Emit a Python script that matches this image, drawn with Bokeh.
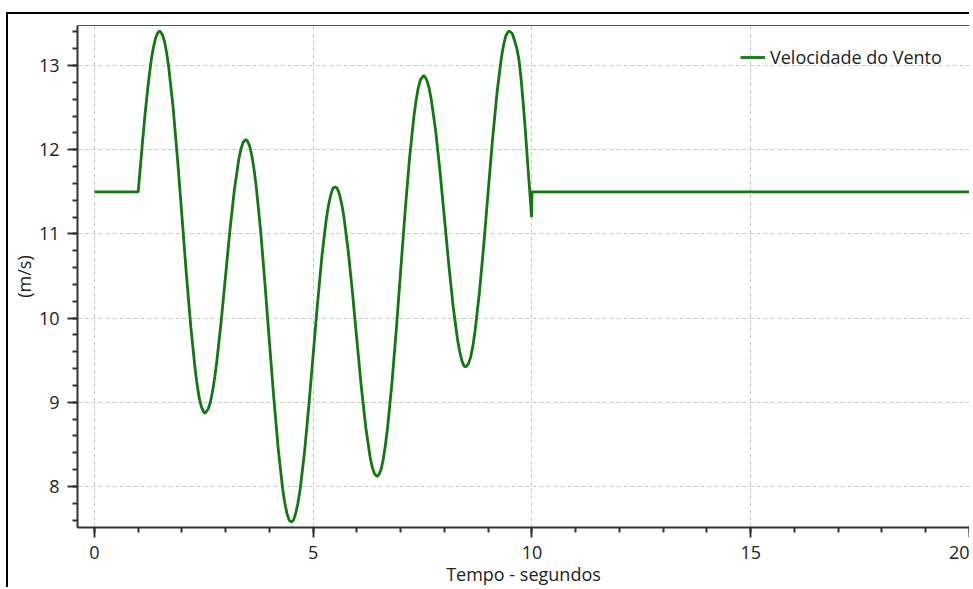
from bokeh.plotting import figure
from bokeh.models import SingleIntervalTicker, Legend, LegendItem
from bokeh.embed import file_html
from bokeh.resources import INLINE

# Time (s) and wind speed (m/s)
tempo = [0.0, 1.0, 1.1, 1.2, 1.3, 1.4, 1.49, 1.6, 1.7, 1.8, 1.9, 2.0, 2.1, 2.2, 2.3, 2.4, 2.5, 2.53,
         2.6, 2.7, 2.8, 2.9, 3.0, 3.1, 3.2, 3.3, 3.4, 3.46, 3.5, 3.6, 3.7, 3.8, 3.9, 4.0, 4.1, 4.2,
         4.3, 4.4, 4.5, 4.6, 4.7, 4.8, 4.9, 5.0, 5.1, 5.2, 5.3, 5.4, 5.5, 5.6, 5.7, 5.8, 5.9, 6.0,
         6.1, 6.2, 6.3, 6.4, 6.46, 6.5, 6.6, 6.7, 6.8, 6.9, 7.0, 7.1, 7.2, 7.3, 7.4, 7.52, 7.6, 7.7,
         7.8, 7.9, 8.0, 8.1, 8.2, 8.3, 8.4, 8.49, 8.6, 8.7, 8.8, 8.9, 9.0, 9.1, 9.2, 9.3, 9.4, 9.48,
         9.6, 9.7, 9.8, 9.9, 9.99, 10.0, 20.0]
velocidade = [11.5, 11.5, 12.10, 12.64, 13.07, 13.33, 13.41, 13.29, 12.97, 12.49, 11.88, 11.21,
              10.53, 9.91, 9.40, 9.04, 8.88, 8.87, 8.92, 9.13, 9.50, 9.98, 10.52, 11.06, 11.53,
              11.89, 12.09, 12.12, 12.10, 11.92, 11.55, 11.03, 10.39, 9.71, 9.05, 8.45, 7.98, 7.68,
              7.58, 7.68, 7.96, 8.40, 8.96, 9.57, 10.18, 10.74, 11.18, 11.46, 11.56, 11.47, 11.21,
              10.80, 10.29, 9.73, 9.18, 8.71, 8.35, 8.15, 8.12, 8.14, 8.32, 8.70, 9.23, 9.87, 10.57,
              11.26, 11.89, 12.39, 12.73, 12.88, 12.82, 12.59, 12.22, 11.73, 11.18, 10.63, 10.13,
              9.74, 9.49, 9.42, 9.54, 9.85, 10.31, 10.88, 11.51, 12.13, 12.67, 13.09, 13.35, 13.41,
              13.30, 13.08, 12.55, 11.85, 11.20, 11.50, 11.50]

# extra readings taken in between, around the peaks and troughs
tempo_extra = [1.05, 1.15, 1.25, 1.35, 1.45, 1.55, 1.65, 2.35, 2.45, 2.65, 2.75, 3.35, 3.55,
               3.65, 4.35, 4.45, 4.55, 4.65, 5.35, 5.45, 5.55, 5.65, 6.35, 6.55, 6.65, 7.35,
               7.45, 7.55, 7.65, 8.35, 8.45, 8.55, 8.65, 9.35, 9.45, 9.55, 9.65, 9.75, 9.85,
               9.95]
velocidade_extra = [11.80, 12.38, 12.87, 13.22, 13.39, 13.37, 13.15, 9.20, 8.94, 9.00, 9.30,
                    12.01, 12.04, 11.76, 7.81, 7.60, 7.60, 7.80, 11.34, 11.54, 11.54, 11.36,
                    8.23, 8.20, 8.49, 12.58, 12.83, 12.87, 12.73, 9.60, 9.43, 9.46, 9.67, 13.24,
                    13.40, 13.38, 13.21, 12.85, 12.22, 11.50]

serie_nome = "Velocidade do Vento"
x_titulo = "Tempo - segundos"
y_titulo = "(m/s)"

pontos = sorted(list(zip(tempo, velocidade)) + list(zip(tempo_extra, velocidade_extra)))
xs = [a for a, b in pontos]
ys = [b for a, b in pontos]

FONT = "Open Sans"
TXT = "#222222"

p = figure(width=963, height=575, x_range=(-0.387, 20.0), y_range=(7.513, 13.475),
           output_backend="svg", toolbar_location=None,
           min_border_left=67, min_border_top=11, min_border_right=2, min_border_bottom=62)
p.styles = {"border-left": "2px solid black", "border-top": "2px solid black",
            "margin-top": "12px", "margin-left": "6px"}

r = p.line(xs, ys, line_color="#137813", line_width=2.8)

p.outline_line_color = "#555555"
p.outline_line_width = 1

p.xaxis.ticker = SingleIntervalTicker(interval=5, num_minor_ticks=5)
p.yaxis.ticker = SingleIntervalTicker(interval=1, num_minor_ticks=5)

for ax in (p.xaxis[0], p.yaxis[0]):
    ax.axis_line_color = "#333333"
    ax.axis_line_width = 2
    ax.major_tick_line_color = "#333333"
    ax.major_tick_line_width = 2
    ax.minor_tick_line_color = "#333333"
    ax.minor_tick_line_width = 2
    ax.major_tick_out = 10
    ax.major_tick_in = 0
    ax.minor_tick_out = 5
    ax.minor_tick_in = 0
    ax.major_label_text_font = FONT
    ax.major_label_text_font_size = "18px"
    ax.major_label_text_color = TXT
    ax.axis_label_text_font = FONT
    ax.axis_label_text_font_size = "18px"
    ax.axis_label_text_font_style = "normal"
    ax.axis_label_text_color = TXT

p.xaxis.axis_label = x_titulo
p.yaxis.axis_label = y_titulo
p.xaxis.major_label_standoff = 8
p.xaxis.axis_label_standoff = 0
p.yaxis.major_label_standoff = 8
p.yaxis.axis_label_standoff = 0

for g in (p.xgrid[0], p.ygrid[0]):
    g.grid_line_color = "#c8c8c8"
    g.grid_line_dash = "4 3"
    g.grid_line_width = 1

legend = Legend(items=[LegendItem(label=serie_nome, renderers=[r])],
                location=(663, 458), border_line_color=None, background_fill_alpha=0,
                padding=0, margin=0, glyph_width=25, glyph_height=24, label_height=24,
                label_standoff=5, label_text_font=FONT, label_text_font_size="18px",
                label_text_color=TXT)
p.add_layout(legend)

open("out.html", "w").write(file_html(p, INLINE))
